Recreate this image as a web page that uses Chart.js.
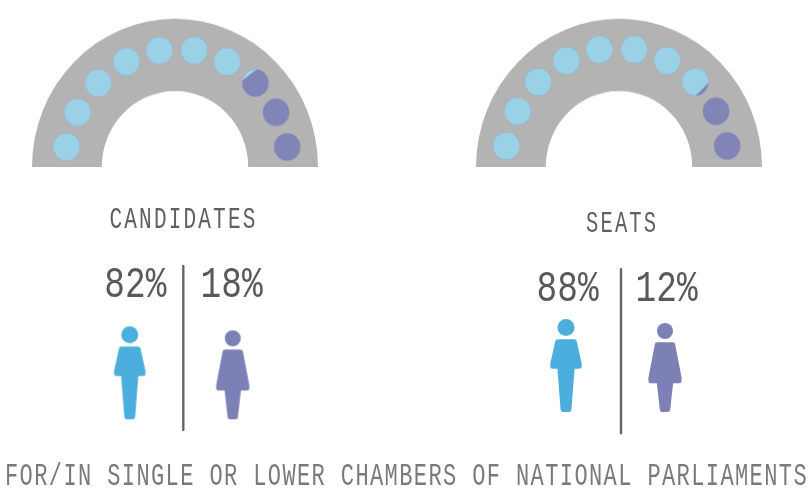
<!DOCTYPE html>
<html>
<head>
<meta charset="utf-8">
<style>
html,body{margin:0;padding:0;background:#fff;width:812px;height:491px;overflow:hidden}
canvas{position:absolute;display:block}
</style>
<script src="https://cdn.jsdelivr.net/npm/chart.js@4"></script>
</head>
<body>
<canvas id="arch0" style="left:31.7px;top:24px;width:286px;height:143px;transform-origin:bottom;transform:scaleY(1.037)"></canvas>
<canvas id="arch1" style="left:476px;top:24px;width:286px;height:143px;transform-origin:bottom;transform:scaleY(1.037)"></canvas>
<canvas id="overlay" style="left:0;top:0;width:812px;height:491px"></canvas>
<script>
// ---- data ----
const panelTitles = ['CANDIDATES', 'SEATS'];
const menShare = [82, 88];
const womenShare = [18, 12];
const dotCount = 10;
const lightDots = [7.2, 7.8];   // dots filled with the light colour
const footnote = 'FOR/IN SINGLE OR LOWER CHAMBERS OF NATIONAL PARLIAMENTS';

// ---- styles ----
const GRAY = '#B3B3B3', DOT_MEN = '#9AD1E7', DOT_WOMEN = '#8084B6';
const MAN = '#4CAEDD', WOMAN = '#7D80B5', DIV = '#666666', INK = '#58595B', FOOT = '#7A7A7A';
const FONT = '"Liberation Mono", monospace';

// ---- layout (one entry per panel) ----
const dotCx = [176.8, 616.8], dotCy = [167, 166];
const DOT_R = 112, STRETCH = 1.053, FIRST_DEG = 9.8, STEP_DEG = 17.82;
const chordDeg = [38, 45];
const divX = [183.3, 621], divTop = [266, 269.3], divBottom = [430, 433.3];
const manX = [129.7, 566], womanX = [232.7, 665], feetY = [419.3, 412];
const titleCx = [183, 621.6], titleBase = [228.3, 232.3], titleW = [148, 72];
const pctBase = [296.7, 301];
const menPctCx = [135.3, 567.6], womenPctCx = [231.6, 666.6], PCT_W = 62;

function dotSprite(frac, chord) {
  const c = document.createElement('canvas');
  c.width = 32; c.height = 32;
  const g = c.getContext('2d');
  const rx = 13.2, ry = 13.7;
  g.translate(16, 16);
  g.beginPath(); g.ellipse(0, 0, rx, ry, 0, 0, Math.PI * 2);
  g.fillStyle = DOT_WOMEN; g.fill();
  if (frac > 0) {
    g.clip();
    g.rotate(-chord * Math.PI / 180);
    const d = frac >= 1 ? -40 : (1 - 2 * frac) * rx * 1.25;
    g.fillStyle = DOT_MEN;
    g.fillRect(-40, -40, 80, 40 - d);
  }
  return c;
}

function personSprite(color, pts, headR, headY) {
  const c = document.createElement('canvas');
  c.width = 44; c.height = 100;
  const g = c.getContext('2d');
  g.translate(22, 0);
  g.fillStyle = color; g.strokeStyle = color;
  g.beginPath(); g.arc(0, headY, headR, 0, Math.PI * 2); g.fill();
  g.beginPath();
  pts.forEach((p, i) => i ? g.lineTo(p[0], p[1]) : g.moveTo(p[0], p[1]));
  for (let i = pts.length - 1; i >= 0; i--) g.lineTo(-pts[i][0], pts[i][1]);
  g.closePath();
  g.lineJoin = 'round'; g.lineWidth = 5;
  g.fill(); g.stroke();
  return c;
}
// half-outlines, feet at y=96 in the sprite
const manSprite = personSprite(MAN,
  [[0, 25.7], [8.3, 25.7], [13.2, 47.8], [13.2, 50.3], [6.3, 50.3], [2.9, 93.5], [0, 93.5]], 8.5, 11.4);
const womanSprite = personSprite(WOMAN,
  [[0, 28.7], [7.7, 28.7], [14.1, 62], [14.1, 64.8], [5.9, 64.8], [2.7, 93.5], [0, 93.5]], 8, 15);
const SPRITE_OFFSET = 46;

// gray arches
['arch0', 'arch1'].forEach(id => {
  new Chart(document.getElementById(id), {
    type: 'doughnut',
    data: { labels: ['band'], datasets: [{ data: [100], backgroundColor: [GRAY], borderWidth: 0 }] },
    options: {
      responsive: false, animation: false, rotation: -90, circumference: 180, cutout: '51.2%',
      layout: { padding: 0 },
      plugins: { legend: { display: false }, tooltip: { enabled: false } }
    }
  });
});

// dots, people, dividers
const datasets = [];
panelTitles.forEach((t, p) => {
  const pts = [], styles = [];
  for (let i = 0; i < dotCount; i++) {
    const a = (FIRST_DEG + STEP_DEG * i) * Math.PI / 180;
    pts.push({ x: dotCx[p] - DOT_R * Math.cos(a), y: dotCy[p] - DOT_R * STRETCH * Math.sin(a) });
    const frac = Math.min(1, Math.max(0, lightDots[p] - i));
    styles.push(dotSprite(frac, chordDeg[p]));
  }
  datasets.push({ type: 'scatter', label: t + ' dots', data: pts, pointStyle: styles, pointRadius: 14, borderWidth: 0 });
  datasets.push({ type: 'scatter', label: t + ' men', data: [{ x: manX[p], y: feetY[p] - SPRITE_OFFSET }], pointStyle: manSprite, pointRadius: 14, borderWidth: 0 });
  datasets.push({ type: 'scatter', label: t + ' women', data: [{ x: womanX[p], y: feetY[p] - SPRITE_OFFSET }], pointStyle: womanSprite, pointRadius: 14, borderWidth: 0 });
  datasets.push({ type: 'line', label: t + ' divider', data: [{ x: divX[p], y: divTop[p] }, { x: divX[p], y: divBottom[p] }],
    borderColor: DIV, borderWidth: 2.4, pointRadius: 0, borderCapStyle: 'round', fill: false });
});

const textPlugin = {
  id: 'texts',
  afterDatasetsDraw(chart) {
    const g = chart.ctx;
    g.save();
    g.textAlign = 'center'; g.textBaseline = 'alphabetic';
    panelTitles.forEach((t, p) => {
      g.letterSpacing = '3px';
      g.fillStyle = '#606060';
      g.font = '29px ' + FONT;
      g.fillText(t, titleCx[p] + 0.5, titleBase[p], titleW[p]);
      g.letterSpacing = '0px';
      g.fillStyle = INK;
      g.font = '45px ' + FONT;
      g.fillText(menShare[p] + '%', menPctCx[p], pctBase[p], PCT_W);
      g.fillText(womenShare[p] + '%', womenPctCx[p], pctBase[p], PCT_W);
    });
    g.letterSpacing = '2px';
    g.fillStyle = FOOT;
    g.font = '32px ' + FONT;
    g.fillText(footnote, 406.5, 485, 803);
    g.restore();
  }
};

new Chart(document.getElementById('overlay'), {
  type: 'scatter',
  data: { datasets },
  plugins: [textPlugin],
  options: {
    responsive: false, animation: false,
    layout: { padding: 0, autoPadding: false },
    clip: false,
    scales: {
      x: { type: 'linear', min: 0, max: 812, display: false },
      y: { type: 'linear', min: 0, max: 491, reverse: true, display: false }
    },
    plugins: { legend: { display: false }, tooltip: { enabled: false } }
  }
});
</script>
</body>
</html>
